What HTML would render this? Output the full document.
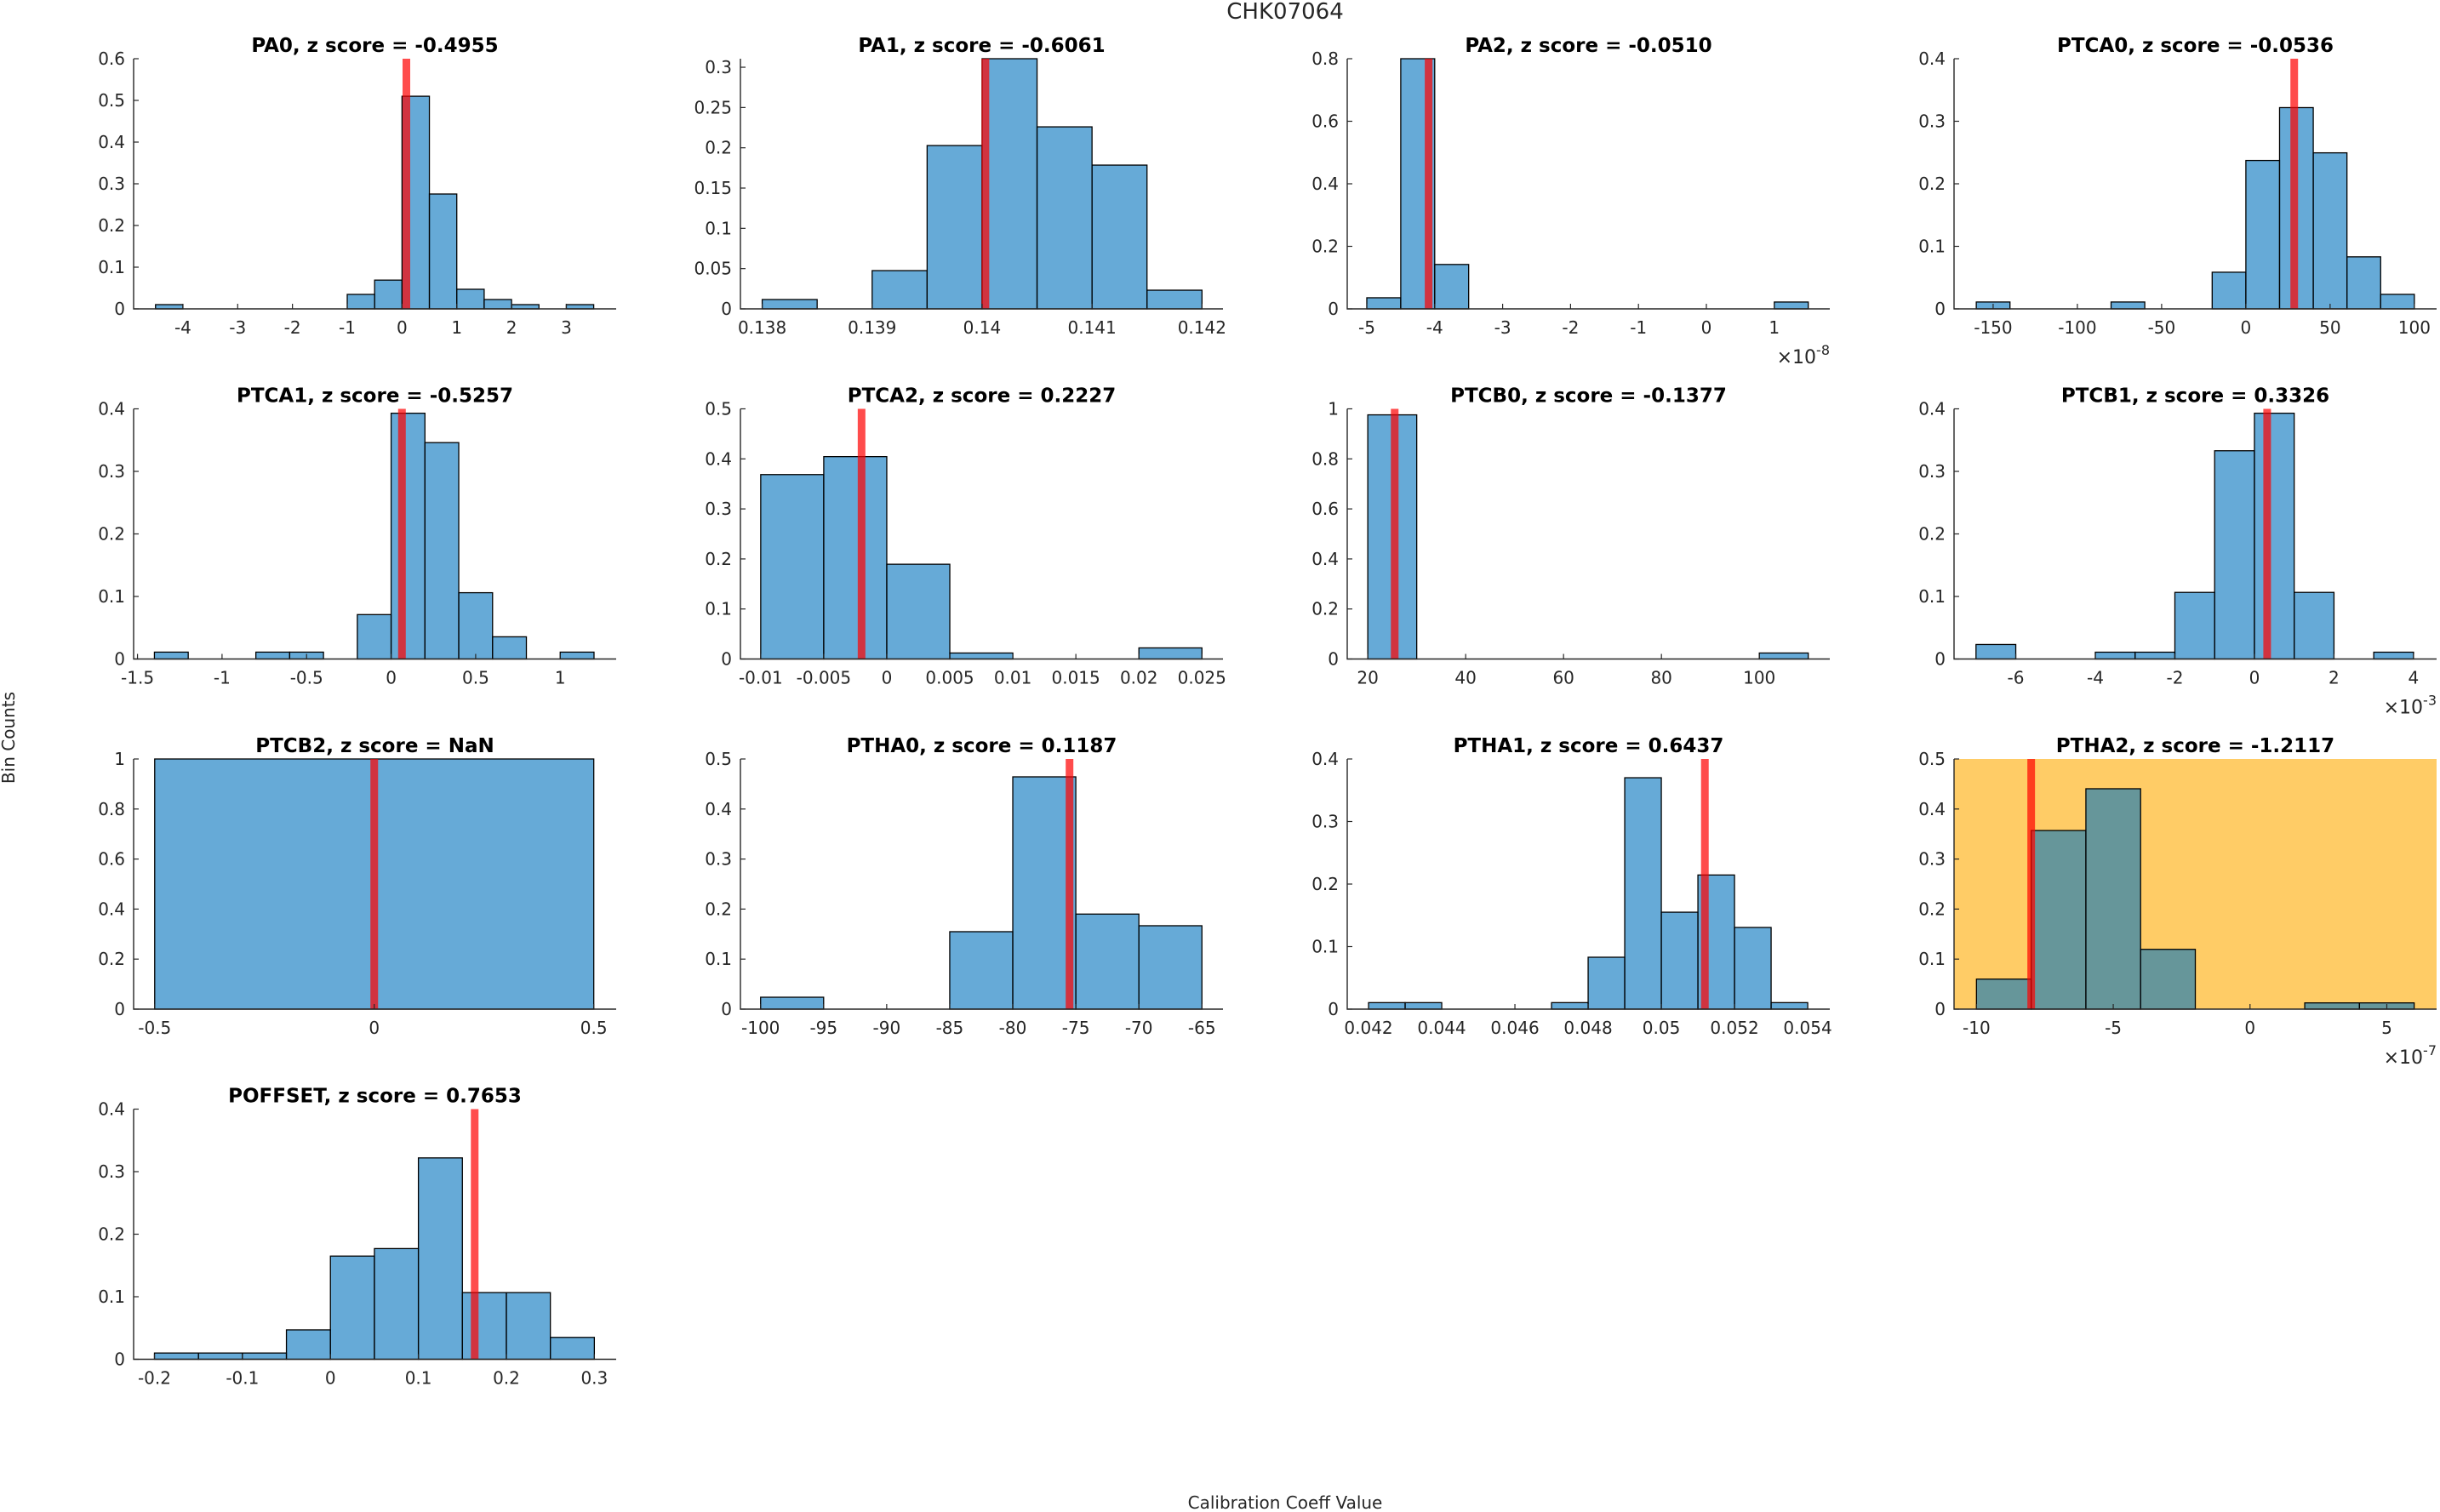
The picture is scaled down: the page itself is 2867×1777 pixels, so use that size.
<!DOCTYPE html>
<html>
<head>
<meta charset="utf-8">
<style>
html,body{margin:0;padding:0;background:#fff;}
svg{display:block;}
text{font-family:"DejaVu Sans","Liberation Sans",sans-serif;fill:#262626;}
</style>
</head>
<body>
<svg id="fig" xmlns="http://www.w3.org/2000/svg" width="2867" height="1777" viewBox="0 0 2867 1777">
<text x="1510" y="22" font-size="26" text-anchor="middle">CHK07064</text>
<text x="0" y="0" font-size="20" text-anchor="middle" transform="translate(17,867) rotate(-90)">Bin Counts</text>
<text x="1510" y="1773" font-size="20" text-anchor="middle">Calibration Coeff Value</text>
</svg>
<script>
const titles = ["PA0, z score = -0.4955","PA1, z score = -0.6061","PA2, z score = -0.0510","PTCA0, z score = -0.0536",
"PTCA1, z score = -0.5257","PTCA2, z score = 0.2227","PTCB0, z score = -0.1377","PTCB1, z score = 0.3326",
"PTCB2, z score = NaN","PTHA0, z score = 0.1187","PTHA1, z score = 0.6437","PTHA2, z score = -1.2117",
"POFFSET, z score = 0.7653"];
const binStarts = [-4.5,0.138,-5,-160,-1.4,-0.01,20,-7,-0.5,-100,0.042,-10,-0.2];
const binWidths = [0.5,0.0005,0.5,20,0.2,0.005,10,1,1,5,0.001,2,0.05];
const binCounts = [
[0.0102,0,0,0,0,0,0,0.0347,0.069,0.51,0.2755,0.047,0.0224,0.0102,0,0.0102],
[0.0116,0,0.0475,0.2028,0.3106,0.226,0.1785,0.0232],
[0.0355,0.8,0.142,0,0,0,0,0,0,0,0,0,0.0219],
[0.011,0,0,0,0.011,0,0,0.0586,0.2373,0.3218,0.2495,0.0832,0.0232],
[0.011,0,0,0.011,0.011,0,0.071,0.393,0.346,0.106,0.0355,0,0.011],
[0.3686,0.4045,0.1894,0.012,0,0,0.0222],
[0.976,0,0,0,0,0,0,0,0.024],
[0.0232,0,0,0.0109,0.0109,0.1065,0.333,0.393,0.1065,0,0.0109],
[1],
[0.0238,0,0,0.1548,0.4643,0.19,0.1667],
[0.0104,0.0104,0,0,0,0.0104,0.083,0.370,0.155,0.2145,0.1306,0.0104],
[0.06,0.357,0.4405,0.1195,0,0,0.0125,0.0125],
[0.01,0.01,0.01,0.047,0.165,0.177,0.322,0.1066,0.1066,0.035]
];
const refValues = [0.08,0.14003,-4.09,28.7,0.064,-0.002,25.5,0.32,0,-75.5,0.05119,-8.0,0.164];
const xMins = [-4.9,0.137802,-5.288,-173.2,-1.523,-0.01161,15.8,-7.552,-0.548,-101.6,0.041418,-10.82,-0.2237];
const xMaxs = [3.91,0.142191,1.817,113.2,1.331,0.02667,114.4,4.58,0.551,-63.33,0.054603,6.82,0.3248];
const yMaxs = [0.6,0.3106,0.8,0.4,0.4,0.5,1,0.4,1,0.5,0.4,0.5,0.4];
const xTicks = [
[-4,-3,-2,-1,0,1,2,3],
[0.138,0.139,0.14,0.141,0.142],
[-5,-4,-3,-2,-1,0,1],
[-150,-100,-50,0,50,100],
[-1.5,-1,-0.5,0,0.5,1],
[-0.01,-0.005,0,0.005,0.01,0.015,0.02,0.025],
[20,40,60,80,100],
[-6,-4,-2,0,2,4],
[-0.5,0,0.5],
[-100,-95,-90,-85,-80,-75,-70,-65],
[0.042,0.044,0.046,0.048,0.05,0.052,0.054],
[-10,-5,0,5],
[-0.2,-0.1,0,0.1,0.2,0.3]
];
const xTickLabels = [
["-4","-3","-2","-1","0","1","2","3"],
["0.138","0.139","0.14","0.141","0.142"],
["-5","-4","-3","-2","-1","0","1"],
["-150","-100","-50","0","50","100"],
["-1.5","-1","-0.5","0","0.5","1"],
["-0.01","-0.005","0","0.005","0.01","0.015","0.02","0.025"],
["20","40","60","80","100"],
["-6","-4","-2","0","2","4"],
["-0.5","0","0.5"],
["-100","-95","-90","-85","-80","-75","-70","-65"],
["0.042","0.044","0.046","0.048","0.05","0.052","0.054"],
["-10","-5","0","5"],
["-0.2","-0.1","0","0.1","0.2","0.3"]
];
const yTicks = [
[0,0.1,0.2,0.3,0.4,0.5,0.6],
[0,0.05,0.1,0.15,0.2,0.25,0.3],
[0,0.2,0.4,0.6,0.8],
[0,0.1,0.2,0.3,0.4],
[0,0.1,0.2,0.3,0.4],
[0,0.1,0.2,0.3,0.4,0.5],
[0,0.2,0.4,0.6,0.8,1],
[0,0.1,0.2,0.3,0.4],
[0,0.2,0.4,0.6,0.8,1],
[0,0.1,0.2,0.3,0.4,0.5],
[0,0.1,0.2,0.3,0.4],
[0,0.1,0.2,0.3,0.4,0.5],
[0,0.1,0.2,0.3,0.4]
];
const exponents = ["","","-8","","","","","-3","","","","-7",""];
const highlighted = [false,false,false,false,false,false,false,false,false,false,false,true,false];

const NS = "http://www.w3.org/2000/svg";
const svg = document.getElementById("fig");
const AX_W = 567, AX_H = 294;
const colLeft = c => 157 + 713 * c;
const rowTop = r => 69 + 411.5 * r;
function mk(tag, attrs, parent) {
  const e = document.createElementNS(NS, tag);
  for (const k in attrs) e.setAttribute(k, attrs[k]);
  parent.appendChild(e);
  return e;
}
function slug(t){return t.split(",")[0].toLowerCase();}

titles.forEach((title, i) => {
  const L = colLeft(i % 4), T = rowTop(Math.floor(i / 4)), B = T + AX_H, R = L + AX_W;
  const xs = v => L + (v - xMins[i]) / (xMaxs[i] - xMins[i]) * AX_W;
  const ys = v => B - v / yMaxs[i] * AX_H;
  const g = mk("g", {}, svg);
  
  

  if (highlighted[i]) {
    const bg = mk("rect", {x: L, y: T, width: AX_W, height: AX_H, fill: "#ffcc66"}, g);
    
    
  }
  binCounts[i].forEach((c, k) => {
    if (c <= 0) return;
    const x0 = binStarts[i] + k * binWidths[i], x1 = x0 + binWidths[i];
    const r = mk("rect", {x: xs(x0), y: ys(c), width: xs(x1) - xs(x0), height: B - ys(c),
      fill: "#0072bd", "fill-opacity": 0.6, stroke: "#000", "stroke-width": 1.3}, g);
    
    
  });
  const red = mk("rect", {x: xs(refValues[i]) - 4.5, y: T, width: 9, height: AX_H, fill: "#ff0000", "fill-opacity": 0.7}, g);
  
  

  const axes = mk("path", {d: `M${L},${T}V${B}H${R}`, fill: "none", stroke: "#262626", "stroke-width": 1.4}, g);
  
  

  xTicks[i].forEach((v, k) => {
    const x = xs(v);
    mk("line", {x1: x, x2: x, y1: B, y2: B - 6, stroke: "#262626", "stroke-width": 1.2}, g);
    const t = mk("text", {x: x, y: B + 29, "font-size": 20, "text-anchor": "middle"}, g);
    t.textContent = xTickLabels[i][k];
    
    
  });
  yTicks[i].forEach(v => {
    const y = ys(v);
    mk("line", {x1: L, x2: L + 6, y1: y, y2: y, stroke: "#262626", "stroke-width": 1.2}, g);
    const t = mk("text", {x: L - 10, y: y + 7, "font-size": 20, "text-anchor": "end"}, g);
    t.textContent = String(v);
    
    
  });
  const tt = mk("text", {x: L + AX_W / 2, y: T - 8, "font-size": 23, "font-weight": "bold", "text-anchor": "middle", style: "fill:#000"}, g);
  tt.textContent = title;
  
  

  if (exponents[i]) {
    const ex = mk("text", {x: R, y: B + 64, "font-size": 22, "text-anchor": "end"}, g);
    
    
    const a = mk("tspan", {}, ex); a.textContent = "\u00d710";
    const b = mk("tspan", {dy: -10, "font-size": 16}, ex); b.textContent = exponents[i];
  }
});
</script>
</body>
</html>
